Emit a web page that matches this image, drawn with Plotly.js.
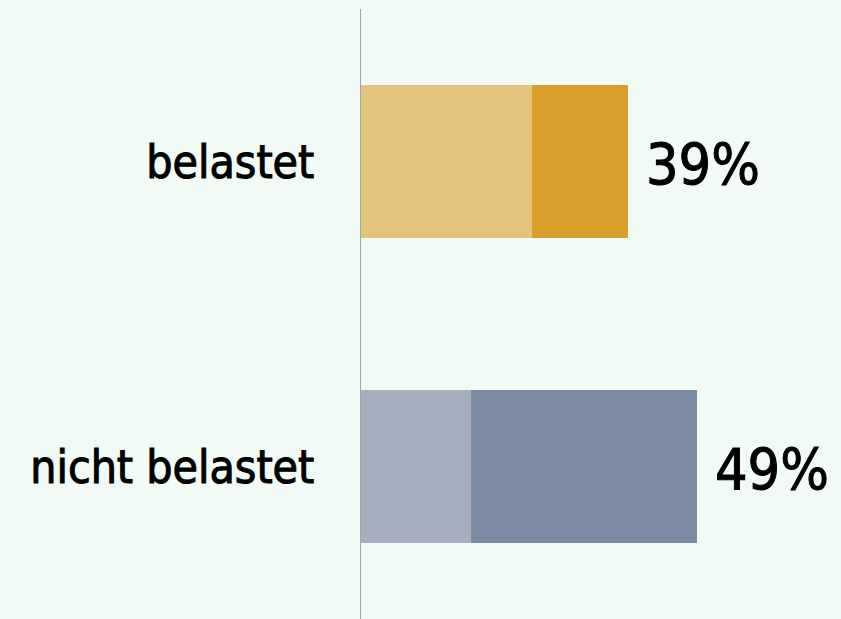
<!DOCTYPE html>
<html>
<head>
<meta charset="utf-8">
<script src="https://cdn.plot.ly/plotly-3.0.1.min.js"></script>
<style>
html,body{margin:0;padding:0;background:#f1faf5;}
#chart .ytick text, #chart .annotation-text { stroke:#000 !important; stroke-width:1px !important; }
</style>
</head>
<body>
<div id="chart" style="width:841px;height:619px;"></div>
<script>
const categories = ["belastet", "nicht belastet"];
const lightValues = [25, 16];
const darkValues = [14, 33];
const lightColors = ["#e2c47c", "#a6afbe"];
const darkColors = ["#d99e2b", "#7a8ba3"];
const totals = categories.map((c, i) => lightValues[i] + darkValues[i]);
const FONT = "'DejaVu Sans Condensed', 'Liberation Sans Narrow', Roboto, sans-serif";

const traces = [
  {type: "bar", orientation: "h", y: categories, x: lightValues,
   marker: {color: lightColors}, hoverinfo: "skip"},
  {type: "bar", orientation: "h", y: categories, x: darkValues,
   marker: {color: darkColors}, hoverinfo: "skip"}
];

const annotations = categories.map((c, i) => ({
  x: totals[i], y: c, xref: "x", yref: "y", text: totals[i] + "%",
  showarrow: false, xanchor: "left", xshift: 16, yshift: -3,
  font: {family: FONT, size: 57, color: "#000"}
}));

const layout = {
  width: 841, height: 619,
  margin: {l: 361, r: 0, t: 9, b: 0},
  paper_bgcolor: "#f1faf5", plot_bgcolor: "#f1faf5",
  barmode: "stack", bargap: 0.5, showlegend: false,
  xaxis: {range: [0, 70], visible: false, showgrid: false, zeroline: false, fixedrange: true},
  yaxis: {categoryorder: "array", categoryarray: categories, autorange: "reversed",
          showline: true, linecolor: "#a3a7a3", linewidth: 1.5,
          showgrid: false, zeroline: false, ticks: "", ticklabelstandoff: 36,
          tickfont: {family: FONT, size: 46, color: "#000"}},
  annotations: annotations
};
Plotly.newPlot("chart", traces, layout, {displayModeBar: false, staticPlot: true});
</script>
</body>
</html>
